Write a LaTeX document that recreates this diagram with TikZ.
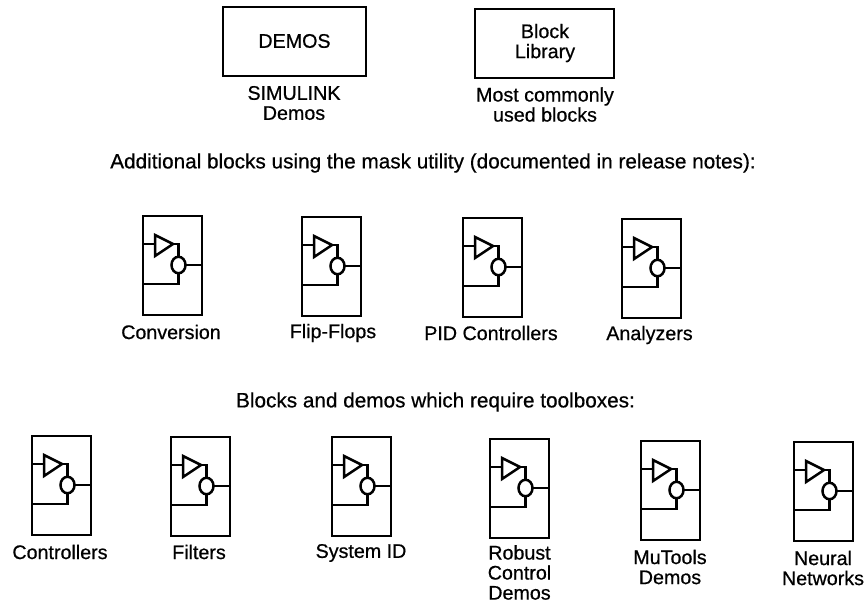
\documentclass[tikz,border=0pt]{standalone}
\usepackage{fontspec}
\setmainfont[FakeBold=0.6]{Liberation Sans}
\usetikzlibrary{positioning, shapes.geometric}
\tikzset{
  wire/.style={line width=0.5mm, black},
  bigbox/.style={draw, line width=0.44mm, inner sep=0pt, outer sep=0pt, anchor=north west},
  maskbox/.style={draw, line width=0.5mm, inner sep=0pt, outer sep=0pt, anchor=north west,
    minimum width=11.8mm, minimum height=19.8mm},
  sumnode/.style={draw, ellipse, line width=0.5mm, inner sep=0pt, outer sep=0pt,
    minimum width=2.8mm, minimum height=3.3mm},
  caption/.style={align=center, inner sep=0pt, font=\fontsize{11.2}{11.4}\selectfont},
  heading/.style={caption, font=\fontsize{11.8}{11.4}\selectfont},
  maskblock/.pic={
    \node[maskbox] (-box) at (0,0) {};
    \node[sumnode] (-sum) at (35.5,49) {};
    \coordinate (-top) at (12,19);
    \coordinate (-bot) at (12,40);
    \coordinate (-tip) at (30,28);
    \coordinate (-in) at (0,28);
    \coordinate (-out) at (59,49);
    \coordinate (-fb) at (0,68);
    % triangle
    \draw[wire] (-top) -- (-tip) -- (-bot) -- cycle;
    \draw[wire] (-in) -- (-in -| -top);
    \draw[wire] (-tip) -| (-sum.north);
    \draw[wire] (-sum.east) -- (-out);
    \draw[wire] (-sum.south) |- (-fb);
  }
}

\begin{document}
\begin{tikzpicture}[x=0.2mm, y=-0.2mm]
  \useasboundingbox (0,0) rectangle (864,602);
  % top row
  \node[bigbox, minimum width=28.6mm, minimum height=13.8mm] (demos) at (223,7) {};
  \node[caption] (demostext) at (294.5,41) {DEMOS};
  \node[caption] (demoscap) at (294,103) {SIMULINK\\Demos};
  \node[bigbox, minimum width=27.8mm, minimum height=13.8mm] (library) at (475,9) {};
  \node[caption] (librarytext) at (545,43) {Block\\Library};
  \node[caption] (librarycap) at (545,104.5) {Most commonly\\used blocks};
  % headings
  \node[heading] (maskhead) at (433,163) {Additional blocks using the mask utility (documented in release notes):};
  \node[heading] (toolhead) at (435.5,402) {Blocks and demos which require toolboxes:};
  % mask blocks
  \foreach \blockname/\x/\y/\capx/\capy/\blocktext in {
      conv/143/216/171/332/{Conversion},
      flip/302/217/333/333/{Flip-Flops},
      pid/463/218/491/333/{PID Controllers},
      ana/622/219/649.5/335/{Analyzers},
      ctrl/32/436/60/552/{Controllers},
      filt/171/437/199/552/{Filters},
      sysid/332/437/361/553/{System ID},
      robust/490/439/519.5/572.5/{Robust\\Control\\Demos},
      mutools/641/441/670/567/{MuTools\\Demos},
      neural/794/442/823/568/{Neural\\Networks}}{
    \pic (\blockname) at (\x,\y) {maskblock};
    \node[caption] (\blockname-cap) at (\capx,\capy) {\blocktext};
  }
\end{tikzpicture}
\end{document}
